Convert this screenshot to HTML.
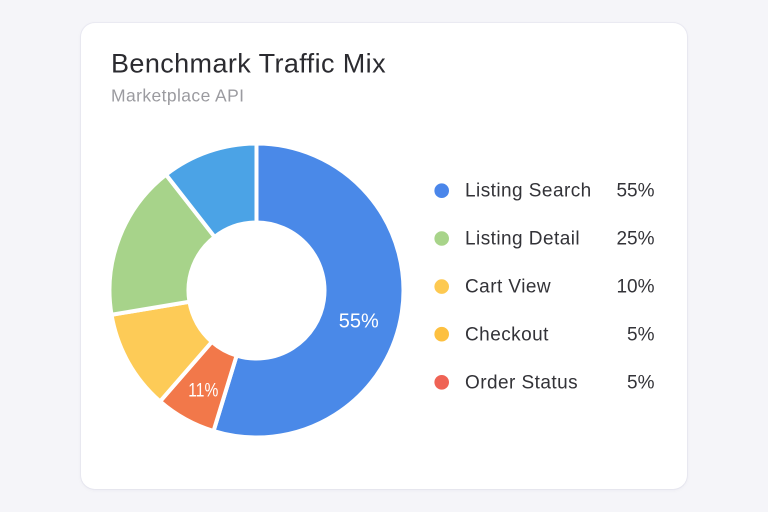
<!DOCTYPE html>
<html>
<head>
<meta charset="utf-8">
<style>
  html,body{margin:0;padding:0;}
  body{width:768px;height:512px;background:#f5f5f9;overflow:hidden;position:relative;font-family:"Liberation Sans",sans-serif;}
  .card{position:absolute;left:81px;top:23px;width:606px;height:466px;background:#ffffff;border-radius:14px;box-shadow:0 1px 4px rgba(40,40,80,0.05),0 0 0 1px rgba(230,230,240,0.6);}
  svg{position:absolute;left:0;top:0;}
</style>
</head>
<body>
<div class="card"></div>
<svg width="768" height="512" viewBox="0 0 768 512" xmlns="http://www.w3.org/2000/svg">
  <text x="111" y="72.5" font-family="Liberation Sans, sans-serif" font-size="27" letter-spacing="0.4" fill="#2b2b30">Benchmark Traffic Mix</text>
  <text x="111" y="101.7" font-family="Liberation Sans, sans-serif" font-size="17.5" letter-spacing="0.4" fill="#9b9ba0">Marketplace API</text>

  <g stroke="#ffffff" stroke-width="4" stroke-linejoin="miter">
    <path d="M 256.5 143.5 A 147 147 0 1 1 213.52 431.08 L 236.62 355.53 A 68 68 0 1 0 256.5 222.5 Z" fill="#4a89e8"/>
    <path d="M 213.52 431.08 A 147 147 0 0 1 160.06 401.44 L 211.89 341.82 A 68 68 0 0 0 236.62 355.53 Z" fill="#f2784a"/>
    <path d="M 160.06 401.44 A 147 147 0 0 1 111.52 314.76 L 189.43 301.72 A 68 68 0 0 0 211.89 341.82 Z" fill="#fdcb57"/>
    <path d="M 111.52 314.76 A 147 147 0 0 1 166.00 174.66 L 214.63 236.92 A 68 68 0 0 0 189.43 301.72 Z" fill="#a7d38a"/>
    <path d="M 166.00 174.66 A 147 147 0 0 1 256.5 143.5 L 256.5 222.5 A 68 68 0 0 0 214.63 236.92 Z" fill="#4ba3e6"/>
  </g>

  <text x="358.8" y="327.3" text-anchor="middle" font-family="Liberation Sans, sans-serif" font-size="20" fill="#ffffff">55%</text>
  <text x="188.3" y="396.7" font-family="Liberation Sans, sans-serif" font-size="19" textLength="30" lengthAdjust="spacingAndGlyphs" fill="#ffffff">11%</text>

  <g font-family="Liberation Sans, sans-serif" font-size="19" fill="#333338">
    <circle cx="441.7" cy="190.7" r="7.3" fill="#4a86ea"/>
    <text x="465" y="196.7" letter-spacing="0.45">Listing Search</text>
    <text x="654.5" y="196.7" text-anchor="end">55%</text>

    <circle cx="441.7" cy="238.5" r="7.3" fill="#a8d48a"/>
    <text x="465" y="244.6" letter-spacing="0.45">Listing Detail</text>
    <text x="654.5" y="244.6" text-anchor="end">25%</text>

    <circle cx="441.7" cy="286.6" r="7.3" fill="#fdc951"/>
    <text x="465" y="292.6" letter-spacing="0.45">Cart View</text>
    <text x="654.5" y="292.6" text-anchor="end">10%</text>

    <circle cx="441.7" cy="334.2" r="7.3" fill="#fdc040"/>
    <text x="465" y="340.4" letter-spacing="0.45">Checkout</text>
    <text x="654.5" y="340.4" text-anchor="end">5%</text>

    <circle cx="441.7" cy="382.3" r="7.3" fill="#ef6355"/>
    <text x="465" y="388.4" letter-spacing="0.45">Order Status</text>
    <text x="654.5" y="388.4" text-anchor="end">5%</text>
  </g>
</svg>
</body>
</html>
